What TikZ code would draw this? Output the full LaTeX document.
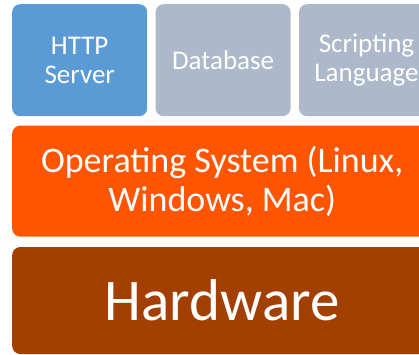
\documentclass[tikz,border=0pt]{standalone}
\usepackage{fontspec}
\setmainfont{Carlito}
\usepackage{xcolor}
\usetikzlibrary{positioning}
\definecolor{httpBlue}{HTML}{5B9BD5}
\definecolor{stackGray}{HTML}{ADB9CA}
\definecolor{osOrange}{HTML}{FF5500}
\definecolor{hwBrown}{HTML}{A33F00}
\tikzstyle{myLayer}=[rounded corners=8pt, text=white, align=center, inner sep=0pt, anchor=north west]
\tikzstyle{myTop}=[myLayer, minimum width=135pt, minimum height=112pt, font=\fontsize{27}{29.5}\selectfont]

\begin{document}
\begin{tikzpicture}[x=1pt, y=-1pt]
   \path[use as bounding box, clip] (0,0) rectangle (419,354);

   % application layer
   \node[myTop, fill=httpBlue] (http) at (12,4) {HTTP\\Server};
   \node[myTop, fill=stackGray] (db) [right=8pt of http] {Database};
   \node[myTop, fill=stackGray] (script) [right=8pt of db] {Scripting\\Language};

   % operating system and hardware
   \node[myLayer, fill=osOrange, minimum width=420pt, minimum height=111pt, font=\fontsize{36}{39.5}\selectfont] (os) [below=9pt of http.south west, anchor=north west] {Operating System (Linux,\\Windows, Mac)};
   \node[myLayer, fill=hwBrown, minimum width=420pt, minimum height=107pt, font=\fontsize{59}{64}\selectfont] (hw) [below=10pt of os.south west, anchor=north west] {Hardware};

\end{tikzpicture}
\end{document}
